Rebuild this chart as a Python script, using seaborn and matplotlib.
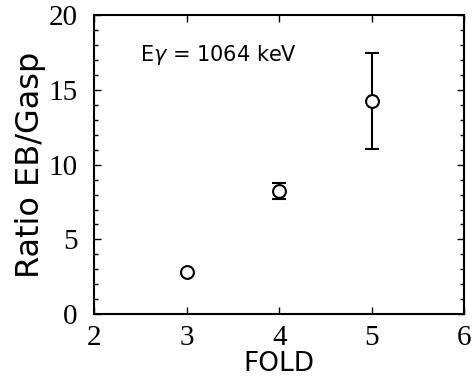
import matplotlib
matplotlib.use("Agg")
import matplotlib.pyplot as plt
import seaborn as sns
import pandas as pd
from matplotlib.ticker import MultipleLocator

fold = [3, 4, 5]
ratio = [2.83, 8.25, 14.25]
err_low = [0.0, 0.55, 3.2]
err_high = [0.0, 0.5, 3.2]
x_ticks = [2, 3, 4, 5, 6]
y_ticks = [0, 5, 10, 15, 20]

sns.set_style("ticks")
plt.rcParams['font.family'] = ['DejaVu Sans']
plt.rcParams['text.color'] = 'black'
plt.rcParams['axes.labelcolor'] = 'black'

df = pd.DataFrame({"FOLD": fold, "Ratio": ratio})

fig = plt.figure(figsize=(4.77, 3.79), dpi=100)
ax = fig.add_axes([0.198, 0.171, 0.775, 0.789])

ax.errorbar(fold, ratio, yerr=[err_low, err_high], fmt='none', ecolor='black',
            elinewidth=1.5, capsize=5, capthick=1.5, zorder=2)
sns.scatterplot(data=df, x="FOLD", y="Ratio", ax=ax, marker='o', s=85,
                facecolor='white', edgecolor='black', linewidth=1.5, zorder=3)

ax.set_xlim(2, 6)
ax.set_ylim(0, 20)
ax.set_xticks(x_ticks)
ax.set_yticks(y_ticks)
ax.yaxis.set_minor_locator(MultipleLocator(1))
ax.tick_params(which='both', direction='in', top=True, right=True, width=1, colors='black')
ax.tick_params(which='major', length=5)
ax.tick_params(which='minor', length=3)
ax.tick_params(axis='y', pad=12)
ax.tick_params(axis='x', pad=8)
for lab in ax.get_xticklabels() + ax.get_yticklabels():
    lab.set_fontfamily('Liberation Serif')
    lab.set_fontsize(21)
for sp in ax.spines.values():
    sp.set_linewidth(1.5)
    sp.set_color('black')

ax.set_xlabel("FOLD", fontsize=19, labelpad=0)
ax.set_ylabel("Ratio EB/Gasp", fontsize=23, labelpad=2)
ax.text(2.49, 17.35, r'E$\gamma$ = 1064 keV', fontsize=15, va='center', ha='left')

fig.savefig("out.png", dpi=100)
